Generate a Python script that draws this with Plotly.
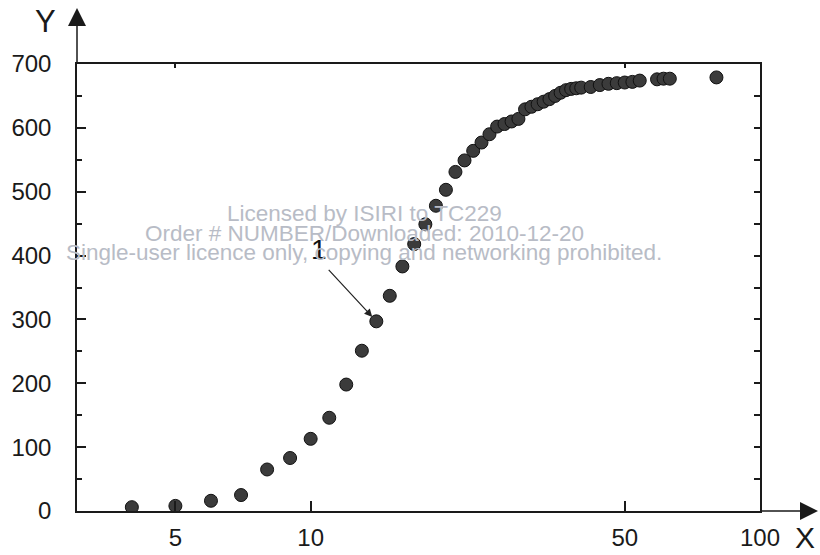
import numpy as np
import plotly.graph_objects as go

# Measured series: Y against X (X on a logarithmic scale)
x_vals = [4, 5, 6, 7, 8, 9, 10, 11, 12, 13, 14, 15, 16, 17, 18, 19, 20,
          21, 22, 23, 24, 25, 26, 27, 28, 29, 30, 31, 32, 33, 34, 35, 36,
          37, 38, 39, 40, 42, 44, 46, 48, 50, 52, 54, 59, 61, 63, 80]
y_vals = [6, 8, 16, 25, 65, 83, 113, 146, 198, 251, 297, 337, 383, 418, 449, 478, 503,
          531, 549, 564, 577, 590, 602, 606, 610, 614, 629, 633, 637, 641, 645, 650, 655,
          659, 661, 662, 663, 664, 667, 669, 670, 671, 672, 674, 676, 677, 677, 679]

x_ticks = [5, 10, 50, 100]
x_tick_text = ["5", "10", "50", "100"]
y_ticks = [0, 100, 200, 300, 400, 500, 600, 700]
y_minor = [50, 150, 250, 350, 450, 550, 650]

# Point marked with the callout "1"
callout_x, callout_y = 14, 297

watermark_lines = [
    "Licensed by ISIRI to TC229",
    "Order # NUMBER/Downloaded: 2010-12-20",
    "Single-user licence only, copying and networking prohibited.",
]

FONT = "Liberation Sans, Arial, sans-serif"
INK = "#1a1a1a"
PLOT_W, PLOT_H = 683, 447

fig = go.Figure()
fig.add_trace(go.Scatter(
    x=x_vals, y=y_vals, mode="markers",
    marker=dict(size=13, color="#3b3b3b", line=dict(color="#111111", width=1)),
    showlegend=False, hoverinfo="x+y",
))
# invisible trace so the top/right axes are drawn
fig.add_trace(go.Scatter(x=[10], y=[0], xaxis="x2", yaxis="y2", mode="markers",
                         marker=dict(opacity=0), showlegend=False, hoverinfo="skip"))

x_range = [np.log10(3.02), 2.0]
y_range = [0, 700]

fig.update_layout(
    width=820, height=555,
    margin=dict(l=77, r=60, t=64, b=44, autoexpand=False),
    paper_bgcolor="white", plot_bgcolor="white",
    font=dict(family=FONT, color=INK, size=24),
    xaxis=dict(type="log", range=x_range, tickvals=x_ticks, ticktext=x_tick_text,
               ticks="inside", ticklen=10, tickwidth=1.5, tickcolor=INK,
               showline=True, linecolor=INK, linewidth=1.5, showgrid=False,
               zeroline=False, ticklabelstandoff=4, tickfont=dict(size=24),
               automargin=False),
    xaxis2=dict(type="log", range=x_range, overlaying="x", side="top",
                tickvals=[5, 50], ticks="inside", ticklen=4, tickwidth=1.5,
                tickcolor=INK, showticklabels=False, showline=True,
                linecolor=INK, linewidth=1.5, showgrid=False, zeroline=False,
                automargin=False),
    yaxis=dict(range=y_range, tickvals=y_ticks, ticks="inside", ticklen=9,
               tickwidth=1.5, tickcolor=INK, showline=True, linecolor=INK,
               linewidth=1.5, showgrid=False, zeroline=False,
               ticklabelstandoff=19, tickfont=dict(size=24), automargin=False,
               minor=dict(tickvals=y_minor, ticks="inside", ticklen=5,
                          tickwidth=1.5, tickcolor=INK, showgrid=False)),
    yaxis2=dict(range=y_range, overlaying="y", side="right",
                tickvals=y_ticks + y_minor, ticks="inside", ticklen=6,
                tickwidth=1.5, tickcolor=INK, showticklabels=False,
                showline=True, linecolor=INK, linewidth=1.5,
                showgrid=False, zeroline=False, automargin=False),
)

annotations = []
# Axis arrows extending past the frame
annotations.append(dict(xref="paper", yref="paper", x=0, y=1 + 56 / PLOT_H,
                        ax=0, ay=56, showarrow=True, arrowhead=2, arrowsize=2.4,
                        arrowwidth=1.5, arrowcolor=INK, text=""))
annotations.append(dict(xref="paper", yref="paper", x=1 + 58 / PLOT_W, y=0,
                        ax=-58, ay=0, showarrow=True, arrowhead=2, arrowsize=2.4,
                        arrowwidth=1.5, arrowcolor=INK, text=""))
# Axis names
annotations.append(dict(xref="paper", yref="paper", x=-32 / PLOT_W, y=1 + 42 / PLOT_H,
                        xanchor="center", yanchor="middle",
                        text="Y", showarrow=False, font=dict(size=31, color=INK)))
annotations.append(dict(xref="paper", yref="paper", x=1 + 45 / PLOT_W, y=-26 / PLOT_H,
                        xanchor="center", yanchor="middle",
                        text="X", showarrow=False, font=dict(size=30, color=INK)))
# Callout "1" with its arrow
annotations.append(dict(x=np.log10(callout_x), y=callout_y, ax=-49, ay=-53,
                        showarrow=True, arrowhead=2, arrowsize=1.3, arrowwidth=1.2,
                        arrowcolor="#222222", standoff=6, text=""))
annotations.append(dict(x=np.log10(callout_x), y=callout_y, ax=-57, ay=-72,
                        showarrow=True, arrowwidth=0.1, arrowcolor="rgba(0,0,0,0)",
                        text="1", font=dict(size=28, color="#111111")))
# Licence watermark on top of the plot
for i, line in enumerate(watermark_lines):
    annotations.append(dict(xref="paper", yref="paper", x=(364 - 77) / PLOT_W,
                            y=(511 - 214 - 19.5 * i) / PLOT_H, text=line,
                            showarrow=False, xanchor="center", yanchor="middle",
                            font=dict(size=22.5, color="#b8bcc6")))
fig.update_layout(annotations=annotations)

fig.write_html("out.html")
